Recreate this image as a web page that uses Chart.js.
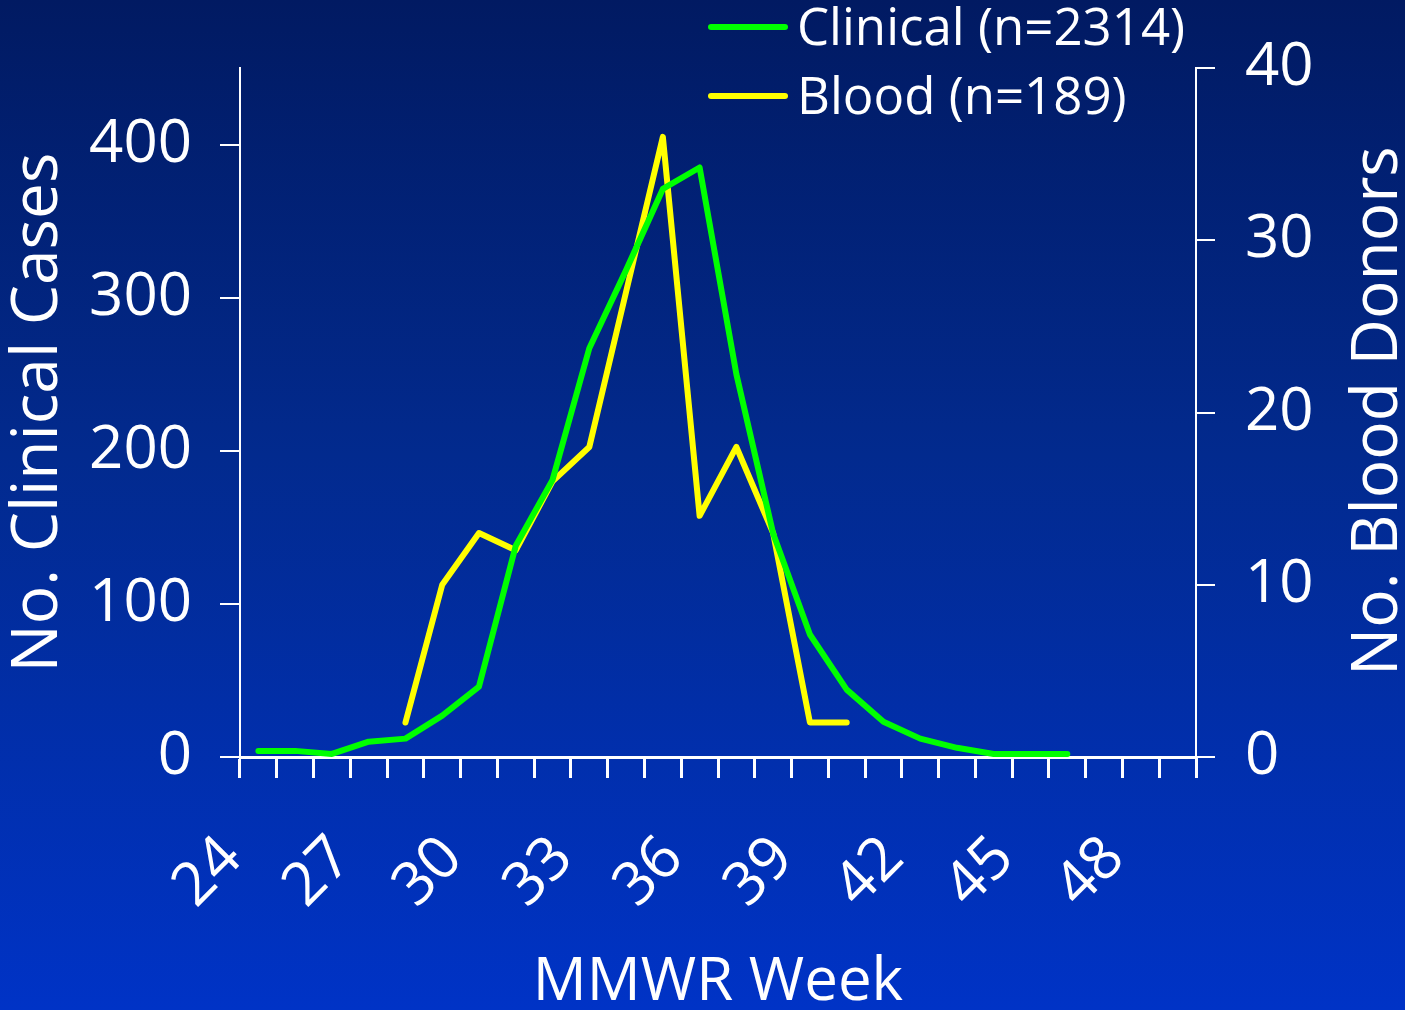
<!DOCTYPE html>
<html>
<head>
<meta charset="utf-8">
<script src="https://cdn.jsdelivr.net/npm/chart.js@4.4.0/dist/chart.umd.min.js"></script>
<style>
html, body { margin: 0; padding: 0; }
body {
    width: 1405px;
    height: 1010px;
    overflow: hidden;
    background: linear-gradient(to bottom, #011a62 0%, #022a8e 45%, #0033c6 100%);
}
canvas { display: block; }
</style>
</head>
<body>
<canvas id="weekChart" width="1405" height="1010"></canvas>
<script>
// MMWR weeks shown on the x axis
const weeks = [24, 25, 26, 27, 28, 29, 30, 31, 32, 33, 34, 35, 36,
               37, 38, 39, 40, 41, 42, 43, 44, 45, 46, 47, 48, 49];

// clinical cases per week (left axis)
const clinicalCases = [4, 4, 2, 10, 12, 27, 46, 138, 181, 267, 318, 371, 385,
                       250, 146, 80, 44, 23, 12, 6, 2, 2, 2, null, null, null];

// blood donors per week (right axis)
const bloodDonors = [null, null, null, null, 2, 10, 13, 12, 16, 18, 27, 36, 14,
                     18, 13, 2, 2, null, null, null, null, null, null, null, null, null];

const seriesNames = ['Clinical (n=2314)', 'Blood (n=189)'];
const casesTitle = 'No. Clinical Cases';
const donorsTitle = 'No. Blood Donors';
const weekTitle = 'MMWR Week';

const FONT = '"Open Sans", "Noto Sans", sans-serif';

// legend in the top right, two rows
const seriesLegend = {
    id: 'seriesLegend',
    afterDraw(chart) {
        const ctx = chart.ctx;
        ctx.save();
        chart.data.datasets.forEach((ds, i) => {
            const y = 27 + i * 69;
            ctx.strokeStyle = ds.borderColor;
            ctx.lineWidth = 6;
            ctx.lineCap = 'round';
            ctx.beginPath();
            ctx.moveTo(711, y);
            ctx.lineTo(785, y);
            ctx.stroke();
            ctx.fillStyle = '#ffffff';
            ctx.font = '51px ' + FONT;
            ctx.textAlign = 'left';
            ctx.textBaseline = 'alphabetic';
            ctx.fillText(ds.label, 797, y + 18);
        });
        ctx.restore();
    }
};

// right axis title reads bottom to top
const donorsAxisTitle = {
    id: 'donorsAxisTitle',
    afterDraw(chart) {
        const ctx = chart.ctx;
        ctx.save();
        ctx.translate(1397, 411);
        ctx.rotate(-Math.PI / 2);
        ctx.fillStyle = '#ffffff';
        ctx.font = '64px ' + FONT;
        ctx.textAlign = 'center';
        ctx.textBaseline = 'alphabetic';
        ctx.fillText(donorsTitle, 0, 0);
        ctx.restore();
    }
};

new Chart(document.getElementById('weekChart'), {
    type: 'line',
    data: {
        labels: weeks,
        datasets: [{
            label: seriesNames[0],
            data: clinicalCases,
            yAxisID: 'yCases',
            borderColor: '#00ff00',
            borderWidth: 6,
            pointRadius: 0,
            tension: 0,
            borderCapStyle: 'round',
            borderJoinStyle: 'round'
        }, {
            label: seriesNames[1],
            data: bloodDonors,
            yAxisID: 'yDonors',
            borderColor: '#ffff00',
            borderWidth: 6,
            pointRadius: 0,
            tension: 0,
            borderCapStyle: 'round',
            borderJoinStyle: 'round'
        }]
    },
    options: {
        responsive: false,
        animation: false,
        layout: {
            padding: { top: 68 }
        },
        plugins: {
            legend: { display: false },
            tooltip: { enabled: false }
        },
        scales: {
            x: {
                type: 'category',
                offset: true,
                grid: {
                    offset: true,
                    drawOnChartArea: false,
                    drawTicks: true,
                    tickLength: 21,
                    color: '#ffffff',
                    lineWidth: 3
                },
                border: { display: true, color: '#ffffff', width: 3 },
                ticks: {
                    autoSkip: false,
                    minRotation: 45,
                    maxRotation: 45,
                    padding: 45,
                    labelOffset: -26,
                    color: '#ffffff',
                    font: { family: FONT, size: 60 },
                    callback: function(value, index) {
                        const w = weeks[index];
                        return (w - 24) % 3 === 0 ? String(w) : '';
                    }
                },
                title: {
                    display: true,
                    text: weekTitle,
                    color: '#ffffff',
                    font: { family: FONT, size: 60, lineHeight: 0.9 },
                    padding: 0
                },
                afterFit(scale) { scale.height = 253; }
            },
            yCases: {
                type: 'linear',
                position: 'left',
                min: 0,
                max: 450,
                grid: {
                    drawOnChartArea: false,
                    tickLength: 20,
                    color: '#ffffff',
                    lineWidth: 2
                },
                border: { display: true, color: '#ffffff', width: 2 },
                ticks: {
                    stepSize: 100,
                    includeBounds: false,
                    padding: 28,
                    color: '#ffffff',
                    font: { family: FONT, size: 60 }
                },
                title: {
                    display: true,
                    text: casesTitle,
                    color: '#ffffff',
                    font: { family: FONT, size: 64 },
                    padding: 0
                },
                afterFit(scale) { scale.width = 240; }
            },
            yDonors: {
                type: 'linear',
                position: 'right',
                min: 0,
                max: 40,
                grid: {
                    drawOnChartArea: false,
                    tickLength: 19,
                    color: '#ffffff',
                    lineWidth: 2
                },
                border: { display: true, color: '#ffffff', width: 2 },
                ticks: {
                    stepSize: 10,
                    padding: 30,
                    color: '#ffffff',
                    font: { family: FONT, size: 60 }
                },
                afterFit(scale) { scale.width = 209; }
            }
        }
    },
    plugins: [seriesLegend, donorsAxisTitle]
});
</script>
</body>
</html>
